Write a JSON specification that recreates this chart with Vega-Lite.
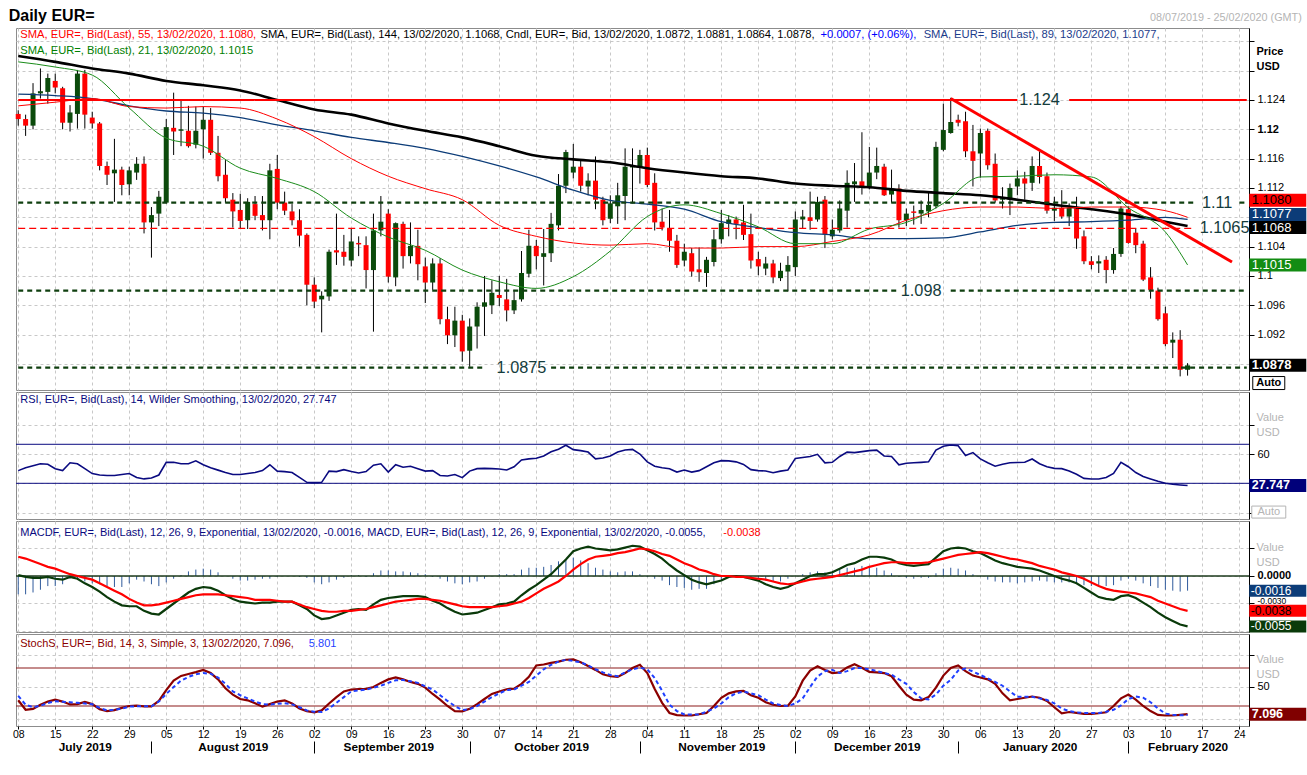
{
"$schema": "https://vega.github.io/schema/vega-lite/v6.json",
"padding": {"left": 8, "top": 7, "right": 0, "bottom": 5},
"background": "#ffffff",
"params": [
{"name": "days", "value": ["2019-07-08","2019-07-09","2019-07-10","2019-07-11","2019-07-12","2019-07-15","2019-07-16","2019-07-17","2019-07-18","2019-07-19","2019-07-22","2019-07-23","2019-07-24","2019-07-25","2019-07-26","2019-07-29","2019-07-30","2019-07-31","2019-08-01","2019-08-02","2019-08-05","2019-08-06","2019-08-07","2019-08-08","2019-08-09","2019-08-12","2019-08-13","2019-08-14","2019-08-15","2019-08-16","2019-08-19","2019-08-20","2019-08-21","2019-08-22","2019-08-23","2019-08-26","2019-08-27","2019-08-28","2019-08-29","2019-08-30","2019-09-02","2019-09-03","2019-09-04","2019-09-05","2019-09-06","2019-09-09","2019-09-10","2019-09-11","2019-09-12","2019-09-13","2019-09-16","2019-09-17","2019-09-18","2019-09-19","2019-09-20","2019-09-23","2019-09-24","2019-09-25","2019-09-26","2019-09-27","2019-09-30","2019-10-01","2019-10-02","2019-10-03","2019-10-04","2019-10-07","2019-10-08","2019-10-09","2019-10-10","2019-10-11","2019-10-14","2019-10-15","2019-10-16","2019-10-17","2019-10-18","2019-10-21","2019-10-22","2019-10-23","2019-10-24","2019-10-25","2019-10-28","2019-10-29","2019-10-30","2019-10-31","2019-11-01","2019-11-04","2019-11-05","2019-11-06","2019-11-07","2019-11-08","2019-11-11","2019-11-12","2019-11-13","2019-11-14","2019-11-15","2019-11-18","2019-11-19","2019-11-20","2019-11-21","2019-11-22","2019-11-25","2019-11-26","2019-11-27","2019-11-28","2019-11-29","2019-12-02","2019-12-03","2019-12-04","2019-12-05","2019-12-06","2019-12-09","2019-12-10","2019-12-11","2019-12-12","2019-12-13","2019-12-16","2019-12-17","2019-12-18","2019-12-19","2019-12-20","2019-12-23","2019-12-24","2019-12-25","2019-12-26","2019-12-27","2019-12-30","2019-12-31","2020-01-01","2020-01-02","2020-01-03","2020-01-06","2020-01-07","2020-01-08","2020-01-09","2020-01-10","2020-01-13","2020-01-14","2020-01-15","2020-01-16","2020-01-17","2020-01-20","2020-01-21","2020-01-22","2020-01-23","2020-01-24","2020-01-27","2020-01-28","2020-01-29","2020-01-30","2020-01-31","2020-02-03","2020-02-04","2020-02-05","2020-02-06","2020-02-07","2020-02-10","2020-02-11","2020-02-12","2020-02-13","2020-02-14","2020-02-17","2020-02-18","2020-02-19","2020-02-20","2020-02-21","2020-02-24","2020-02-25"]},
{"name": "mon", "value": ["2019-07-08","2019-07-15","2019-07-22","2019-07-29","2019-08-05","2019-08-12","2019-08-19","2019-08-26","2019-09-02","2019-09-09","2019-09-16","2019-09-23","2019-09-30","2019-10-07","2019-10-14","2019-10-21","2019-10-28","2019-11-04","2019-11-11","2019-11-18","2019-11-25","2019-12-02","2019-12-09","2019-12-16","2019-12-23","2019-12-30","2020-01-06","2020-01-13","2020-01-20","2020-01-27","2020-02-03","2020-02-10","2020-02-17","2020-02-24"]}
],
"config": {
"view": {"stroke": "#8c8c8c", "strokeWidth": 1},
"axis": {"labelFont": "Liberation Sans", "labelFontSize": 11, "labelColor": "#000000", "gridColor": "#c8c8c8", "gridDash": [3, 3], "gridWidth": 1, "tickColor": "#000000", "domainColor": "#000000", "titleFont": "Liberation Sans", "labelPadding": 3},
"text": {"font": "Liberation Sans"}
},
"datasets": {
"p": [
{"d":"2019-07-08","o":1.1221,"h":1.1226,"l":1.1205,"c":1.1214,"r":43,"m":0.0001,"s":0.0021,"hi":-0.0020,"k":29,"kd":36},
{"d":"2019-07-09","o":1.1214,"h":1.1220,"l":1.1191,"c":1.1205,"r":46,"m":-0.0001,"s":0.0019,"hi":-0.0020,"k":14,"kd":22},
{"d":"2019-07-10","o":1.1205,"h":1.1263,"l":1.1200,"c":1.1249,"r":48,"m":-0.0002,"s":0.0016,"hi":-0.0018,"k":15.5,"kd":18},
{"d":"2019-07-11","o":1.1249,"h":1.1283,"l":1.1242,"c":1.1252,"r":50,"m":-0.0002,"s":0.0013,"hi":-0.0015,"k":22,"kd":20.5},
{"d":"2019-07-12","o":1.1251,"h":1.1276,"l":1.1235,"c":1.1270,"r":49.5,"m":-0.0001,"s":0.0010,"hi":-0.0011,"k":27,"kd":24.5},
{"d":"2019-07-15","o":1.1266,"h":1.1276,"l":1.1249,"c":1.1257,"r":45,"m":-0.0003,"s":0.0008,"hi":-0.0011,"k":30,"kd":27.5},
{"d":"2019-07-16","o":1.1256,"h":1.1258,"l":1.1200,"c":1.1209,"r":43,"m":-0.0004,"s":0.0005,"hi":-0.0009,"k":27,"kd":26.8},
{"d":"2019-07-17","o":1.1209,"h":1.1233,"l":1.1197,"c":1.1223,"r":51,"m":-0.0001,"s":0.0002,"hi":-0.0003,"k":22.5,"kd":26},
{"d":"2019-07-18","o":1.1221,"h":1.1281,"l":1.1201,"c":1.1276,"r":50,"m":-0.0003,"s":0,"hi":-0.0003,"k":23,"kd":25},
{"d":"2019-07-19","o":1.1276,"h":1.1281,"l":1.1201,"c":1.1220,"r":45,"m":-0.0008,"s":-0.0002,"hi":-0.0006,"k":26.5,"kd":24},
{"d":"2019-07-22","o":1.1216,"h":1.1224,"l":1.1201,"c":1.1208,"r":40,"m":-0.0012,"s":-0.0004,"hi":-0.0008,"k":23,"kd":22.7},
{"d":"2019-07-23","o":1.1208,"h":1.1210,"l":1.1144,"c":1.1150,"r":38.5,"m":-0.0017,"s":-0.0008,"hi":-0.0009,"k":15,"kd":17},
{"d":"2019-07-24","o":1.1150,"h":1.1156,"l":1.1124,"c":1.1138,"r":38,"m":-0.0023,"s":-0.0012,"hi":-0.0011,"k":12,"kd":13},
{"d":"2019-07-25","o":1.1140,"h":1.1187,"l":1.1101,"c":1.1145,"r":38,"m":-0.0028,"s":-0.0016,"hi":-0.0012,"k":13.5,"kd":14},
{"d":"2019-07-26","o":1.1145,"h":1.1149,"l":1.1110,"c":1.1124,"r":39,"m":-0.0032,"s":-0.0020,"hi":-0.0012,"k":17,"kd":16},
{"d":"2019-07-29","o":1.1125,"h":1.1149,"l":1.1110,"c":1.1144,"r":40,"m":-0.0033,"s":-0.0025,"hi":-0.0008,"k":20,"kd":19},
{"d":"2019-07-30","o":1.1141,"h":1.1162,"l":1.1131,"c":1.1153,"r":36,"m":-0.0033,"s":-0.0029,"hi":-0.0004,"k":20.5,"kd":19.5},
{"d":"2019-07-31","o":1.1153,"h":1.1163,"l":1.1058,"c":1.1073,"r":34.5,"m":-0.0038,"s":-0.0032,"hi":-0.0006,"k":19.5,"kd":19.5},
{"d":"2019-08-01","o":1.1073,"h":1.1094,"l":1.1025,"c":1.1083,"r":35.5,"m":-0.0041,"s":-0.0032,"hi":-0.0009,"k":19.5,"kd":19.5},
{"d":"2019-08-02","o":1.1085,"h":1.1116,"l":1.1068,"c":1.1108,"r":38.5,"m":-0.0042,"s":-0.0031,"hi":-0.0011,"k":28,"kd":27},
{"d":"2019-08-05","o":1.1100,"h":1.1214,"l":1.1099,"c":1.1203,"r":51.5,"m":-0.0036,"s":-0.0029,"hi":-0.0007,"k":45,"kd":39},
{"d":"2019-08-06","o":1.1202,"h":1.1250,"l":1.1165,"c":1.1197,"r":51.5,"m":-0.0030,"s":-0.0027,"hi":-0.0003,"k":60,"kd":50},
{"d":"2019-08-07","o":1.1198,"h":1.1240,"l":1.1177,"c":1.1200,"r":50,"m":-0.0024,"s":-0.0025,"hi":0.0001,"k":67.5,"kd":60},
{"d":"2019-08-08","o":1.1198,"h":1.1232,"l":1.1175,"c":1.1177,"r":50,"m":-0.0018,"s":-0.0023,"hi":0.0005,"k":70.5,"kd":66},
{"d":"2019-08-09","o":1.1179,"h":1.1231,"l":1.1174,"c":1.1198,"r":53,"m":-0.0014,"s":-0.0021,"hi":0.0007,"k":73.5,"kd":70},
{"d":"2019-08-12","o":1.1200,"h":1.1231,"l":1.1160,"c":1.1213,"r":49,"m":-0.0012,"s":-0.0020,"hi":0.0008,"k":77,"kd":72},
{"d":"2019-08-13","o":1.1213,"h":1.1229,"l":1.1165,"c":1.1168,"r":46,"m":-0.0013,"s":-0.0020,"hi":0.0007,"k":72,"kd":71},
{"d":"2019-08-14","o":1.1168,"h":1.1191,"l":1.1129,"c":1.1136,"r":43.5,"m":-0.0016,"s":-0.0020,"hi":0.0004,"k":62,"kd":65},
{"d":"2019-08-15","o":1.1138,"h":1.1158,"l":1.1100,"c":1.1106,"r":41,"m":-0.0021,"s":-0.0021,"hi":0,"k":48,"kd":55},
{"d":"2019-08-16","o":1.1104,"h":1.1113,"l":1.1066,"c":1.1088,"r":39,"m":-0.0025,"s":-0.0022,"hi":-0.0003,"k":38,"kd":43},
{"d":"2019-08-19","o":1.1090,"h":1.1112,"l":1.1064,"c":1.1075,"r":39,"m":-0.0028,"s":-0.0023,"hi":-0.0005,"k":31,"kd":37},
{"d":"2019-08-20","o":1.1076,"h":1.1106,"l":1.1064,"c":1.1101,"r":40,"m":-0.0029,"s":-0.0024,"hi":-0.0005,"k":29,"kd":32},
{"d":"2019-08-21","o":1.1098,"h":1.1109,"l":1.1076,"c":1.1082,"r":41,"m":-0.0030,"s":-0.0026,"hi":-0.0004,"k":24.5,"kd":27},
{"d":"2019-08-22","o":1.1083,"h":1.1109,"l":1.1062,"c":1.1076,"r":43,"m":-0.0029,"s":-0.0026,"hi":-0.0003,"k":19,"kd":23},
{"d":"2019-08-23","o":1.1076,"h":1.1153,"l":1.1050,"c":1.1144,"r":49,"m":-0.0029,"s":-0.0026,"hi":-0.0003,"k":23,"kd":22},
{"d":"2019-08-26","o":1.1146,"h":1.1165,"l":1.1091,"c":1.1100,"r":42.5,"m":-0.0028,"s":-0.0027,"hi":-0.0001,"k":27,"kd":23.5},
{"d":"2019-08-27","o":1.1100,"h":1.1115,"l":1.1083,"c":1.1089,"r":42,"m":-0.0028,"s":-0.0028,"hi":0,"k":29,"kd":24.5},
{"d":"2019-08-28","o":1.1088,"h":1.1098,"l":1.1069,"c":1.1076,"r":41,"m":-0.0028,"s":-0.0028,"hi":0,"k":23.8,"kd":22.5},
{"d":"2019-08-29","o":1.1076,"h":1.1091,"l":1.1040,"c":1.1055,"r":36,"m":-0.0032,"s":-0.0031,"hi":-0.0001,"k":16,"kd":18},
{"d":"2019-08-30","o":1.1056,"h":1.1058,"l":1.0960,"c":1.0988,"r":31,"m":-0.0036,"s":-0.0034,"hi":-0.0002,"k":12,"kd":13},
{"d":"2019-09-02","o":1.0988,"h":1.0998,"l":1.0956,"c":1.0965,"r":30.7,"m":-0.0043,"s":-0.0036,"hi":-0.0007,"k":10,"kd":11},
{"d":"2019-09-03","o":1.0968,"h":1.0979,"l":1.0923,"c":1.0973,"r":31,"m":-0.0047,"s":-0.0038,"hi":-0.0009,"k":13,"kd":10.5},
{"d":"2019-09-04","o":1.0972,"h":1.1036,"l":1.0966,"c":1.1033,"r":42.5,"m":-0.0046,"s":-0.0039,"hi":-0.0007,"k":24,"kd":16},
{"d":"2019-09-05","o":1.1035,"h":1.1085,"l":1.1015,"c":1.1032,"r":42,"m":-0.0043,"s":-0.0039,"hi":-0.0004,"k":34,"kd":25},
{"d":"2019-09-06","o":1.1033,"h":1.1056,"l":1.1014,"c":1.1026,"r":44,"m":-0.0040,"s":-0.0038,"hi":-0.0002,"k":43,"kd":34},
{"d":"2019-09-09","o":1.1021,"h":1.1065,"l":1.1013,"c":1.1047,"r":42,"m":-0.0037,"s":-0.0038,"hi":0.0001,"k":46,"kd":43},
{"d":"2019-09-10","o":1.1045,"h":1.1054,"l":1.1027,"c":1.1043,"r":40.5,"m":-0.0036,"s":-0.0037,"hi":0.0001,"k":46.8,"kd":44.5},
{"d":"2019-09-11","o":1.1042,"h":1.1054,"l":1.0983,"c":1.1008,"r":42,"m":-0.0037,"s":-0.0036,"hi":-0.0001,"k":47,"kd":46},
{"d":"2019-09-12","o":1.1008,"h":1.1085,"l":1.0924,"c":1.1062,"r":48.5,"m":-0.0031,"s":-0.0034,"hi":0.0003,"k":50,"kd":49},
{"d":"2019-09-13","o":1.1062,"h":1.1109,"l":1.1054,"c":1.1074,"r":50,"m":-0.0026,"s":-0.0032,"hi":0.0006,"k":56.5,"kd":52},
{"d":"2019-09-16","o":1.1085,"h":1.1091,"l":1.0991,"c":1.0999,"r":41.5,"m":-0.0024,"s":-0.0030,"hi":0.0006,"k":62,"kd":56.5},
{"d":"2019-09-17","o":1.0998,"h":1.1073,"l":1.0986,"c":1.1072,"r":49,"m":-0.0023,"s":-0.0028,"hi":0.0005,"k":65,"kd":60.5},
{"d":"2019-09-18","o":1.1071,"h":1.1074,"l":1.1010,"c":1.1027,"r":46.5,"m":-0.0022,"s":-0.0027,"hi":0.0005,"k":62,"kd":61},
{"d":"2019-09-19","o":1.1027,"h":1.1073,"l":1.1017,"c":1.1041,"r":47.5,"m":-0.0022,"s":-0.0026,"hi":0.0004,"k":58,"kd":59},
{"d":"2019-09-20","o":1.1041,"h":1.1063,"l":1.0994,"c":1.1016,"r":45,"m":-0.0022,"s":-0.0025,"hi":0.0003,"k":55,"kd":56.5},
{"d":"2019-09-23","o":1.1013,"h":1.1025,"l":1.0963,"c":1.0991,"r":42.5,"m":-0.0023,"s":-0.0025,"hi":0.0002,"k":49,"kd":51},
{"d":"2019-09-24","o":1.0991,"h":1.1024,"l":1.0981,"c":1.1017,"r":43,"m":-0.0027,"s":-0.0026,"hi":-0.0001,"k":39,"kd":46},
{"d":"2019-09-25","o":1.1017,"h":1.1024,"l":1.0934,"c":1.0941,"r":38,"m":-0.0030,"s":-0.0027,"hi":-0.0003,"k":30,"kd":37},
{"d":"2019-09-26","o":1.0941,"h":1.0958,"l":1.0907,"c":1.0919,"r":37.5,"m":-0.0035,"s":-0.0029,"hi":-0.0006,"k":20,"kd":28},
{"d":"2019-09-27","o":1.0919,"h":1.0958,"l":1.0903,"c":1.0939,"r":39,"m":-0.0039,"s":-0.0031,"hi":-0.0008,"k":12,"kd":20},
{"d":"2019-09-30","o":1.0939,"h":1.0947,"l":1.0883,"c":1.0897,"r":35.8,"m":-0.0042,"s":-0.0033,"hi":-0.0009,"k":11.5,"kd":13.5},
{"d":"2019-10-01","o":1.0898,"h":1.0942,"l":1.0876,"c":1.0931,"r":42.5,"m":-0.0041,"s":-0.0034,"hi":-0.0007,"k":15.5,"kd":15},
{"d":"2019-10-02","o":1.0931,"h":1.0964,"l":1.0901,"c":1.0958,"r":45,"m":-0.0040,"s":-0.0034,"hi":-0.0006,"k":23,"kd":20},
{"d":"2019-10-03","o":1.0958,"h":1.1000,"l":1.0918,"c":1.0964,"r":45.3,"m":-0.0037,"s":-0.0034,"hi":-0.0003,"k":31,"kd":27},
{"d":"2019-10-04","o":1.0960,"h":1.0994,"l":1.0948,"c":1.0977,"r":45,"m":-0.0034,"s":-0.0034,"hi":0,"k":39,"kd":34},
{"d":"2019-10-07","o":1.0974,"h":1.1000,"l":1.0959,"c":1.0970,"r":44.6,"m":-0.0031,"s":-0.0033,"hi":0.0002,"k":43,"kd":40},
{"d":"2019-10-08","o":1.0968,"h":1.0996,"l":1.0938,"c":1.0953,"r":43.6,"m":-0.0030,"s":-0.0032,"hi":0.0002,"k":46.5,"kd":45},
{"d":"2019-10-09","o":1.0953,"h":1.0981,"l":1.0948,"c":1.0967,"r":47,"m":-0.0028,"s":-0.0030,"hi":0.0002,"k":47.5,"kd":46},
{"d":"2019-10-10","o":1.0968,"h":1.1034,"l":1.0965,"c":1.1004,"r":54,"m":-0.0021,"s":-0.0028,"hi":0.0007,"k":55,"kd":52},
{"d":"2019-10-11","o":1.1003,"h":1.1063,"l":1.0998,"c":1.1041,"r":55,"m":-0.0015,"s":-0.0024,"hi":0.0009,"k":66,"kd":58},
{"d":"2019-10-14","o":1.1041,"h":1.1049,"l":1.1009,"c":1.1027,"r":55.6,"m":-0.0010,"s":-0.0019,"hi":0.0009,"k":84,"kd":68},
{"d":"2019-10-15","o":1.1026,"h":1.1064,"l":1.0987,"c":1.1031,"r":58,"m":-0.0004,"s":-0.0014,"hi":0.0010,"k":85.5,"kd":78},
{"d":"2019-10-16","o":1.1031,"h":1.1086,"l":1.1019,"c":1.1071,"r":62.4,"m":0.0002,"s":-0.0010,"hi":0.0012,"k":88,"kd":85},
{"d":"2019-10-17","o":1.1069,"h":1.1139,"l":1.1062,"c":1.1123,"r":65,"m":0.0010,"s":-0.0006,"hi":0.0016,"k":90,"kd":90},
{"d":"2019-10-18","o":1.1123,"h":1.1172,"l":1.1113,"c":1.1169,"r":69,"m":0.0018,"s":0,"hi":0.0018,"k":93,"kd":93},
{"d":"2019-10-21","o":1.1141,"h":1.1180,"l":1.1133,"c":1.1149,"r":64.5,"m":0.0027,"s":0.0007,"hi":0.0020,"k":93.5,"kd":91},
{"d":"2019-10-22","o":1.1149,"h":1.1158,"l":1.1115,"c":1.1123,"r":63.5,"m":0.0030,"s":0.0013,"hi":0.0017,"k":89,"kd":89},
{"d":"2019-10-23","o":1.1122,"h":1.1140,"l":1.1110,"c":1.1130,"r":62,"m":0.0032,"s":0.0018,"hi":0.0014,"k":83,"kd":84},
{"d":"2019-10-24","o":1.1130,"h":1.1163,"l":1.1091,"c":1.1104,"r":55,"m":0.0030,"s":0.0021,"hi":0.0009,"k":77,"kd":78},
{"d":"2019-10-25","o":1.1104,"h":1.1108,"l":1.1069,"c":1.1076,"r":56,"m":0.0029,"s":0.0022,"hi":0.0007,"k":70,"kd":73},
{"d":"2019-10-28","o":1.1078,"h":1.1110,"l":1.1072,"c":1.1099,"r":58,"m":0.0028,"s":0.0023,"hi":0.0005,"k":67,"kd":69},
{"d":"2019-10-29","o":1.1095,"h":1.1127,"l":1.1071,"c":1.1110,"r":62,"m":0.0029,"s":0.0025,"hi":0.0004,"k":66,"kd":67},
{"d":"2019-10-30","o":1.1109,"h":1.1174,"l":1.1076,"c":1.1149,"r":64.1,"m":0.0031,"s":0.0026,"hi":0.0005,"k":72,"kd":73},
{"d":"2019-10-31","o":1.1148,"h":1.1174,"l":1.1099,"c":1.1151,"r":64.8,"m":0.0033,"s":0.0028,"hi":0.0005,"k":80,"kd":78},
{"d":"2019-11-01","o":1.1149,"h":1.1172,"l":1.1126,"c":1.1165,"r":60,"m":0.0032,"s":0.0030,"hi":0.0002,"k":85,"kd":80.5},
{"d":"2019-11-04","o":1.1165,"h":1.1175,"l":1.1121,"c":1.1124,"r":52,"m":0.0028,"s":0.0029,"hi":-0.0001,"k":72,"kd":78},
{"d":"2019-11-05","o":1.1127,"h":1.1140,"l":1.1062,"c":1.1073,"r":47.5,"m":0.0024,"s":0.0027,"hi":-0.0003,"k":47,"kd":64},
{"d":"2019-11-06","o":1.1074,"h":1.1092,"l":1.1062,"c":1.1066,"r":46,"m":0.0019,"s":0.0024,"hi":-0.0005,"k":25,"kd":44},
{"d":"2019-11-07","o":1.1065,"h":1.1090,"l":1.1033,"c":1.1048,"r":45,"m":0.0012,"s":0.0022,"hi":-0.0010,"k":9,"kd":22},
{"d":"2019-11-08","o":1.1048,"h":1.1056,"l":1.1011,"c":1.1015,"r":41.5,"m":0.0006,"s":0.0018,"hi":-0.0012,"k":5.5,"kd":12},
{"d":"2019-11-11","o":1.1021,"h":1.1044,"l":1.1013,"c":1.1033,"r":43.6,"m":0.0001,"s":0.0014,"hi":-0.0013,"k":5,"kd":6.6},
{"d":"2019-11-12","o":1.1031,"h":1.1038,"l":1.0999,"c":1.1006,"r":41.5,"m":-0.0004,"s":0.0011,"hi":-0.0015,"k":5,"kd":6.6},
{"d":"2019-11-13","o":1.1009,"h":1.1039,"l":1.0992,"c":1.1005,"r":43,"m":-0.0007,"s":0.0007,"hi":-0.0014,"k":7,"kd":6.6},
{"d":"2019-11-14","o":1.1004,"h":1.1026,"l":1.0985,"c":1.1022,"r":47,"m":-0.0009,"s":0.0005,"hi":-0.0014,"k":9,"kd":11},
{"d":"2019-11-15","o":1.1019,"h":1.1063,"l":1.1013,"c":1.1050,"r":51,"m":-0.0007,"s":0.0002,"hi":-0.0009,"k":20,"kd":16},
{"d":"2019-11-18","o":1.1050,"h":1.1090,"l":1.1044,"c":1.1072,"r":53.2,"m":-0.0005,"s":0,"hi":-0.0005,"k":33,"kd":24},
{"d":"2019-11-19","o":1.1071,"h":1.1083,"l":1.1054,"c":1.1077,"r":53,"m":-0.0001,"s":0,"hi":-0.0001,"k":40,"kd":34},
{"d":"2019-11-20","o":1.1077,"h":1.1081,"l":1.1050,"c":1.1071,"r":52,"m":0,"s":-0.0001,"hi":0.0001,"k":43,"kd":40},
{"d":"2019-11-21","o":1.1073,"h":1.1097,"l":1.1049,"c":1.1056,"r":49.4,"m":-0.0001,"s":-0.0001,"hi":0,"k":44,"kd":43},
{"d":"2019-11-22","o":1.1057,"h":1.1085,"l":1.1010,"c":1.1021,"r":44,"m":-0.0003,"s":-0.0002,"hi":-0.0001,"k":37,"kd":40},
{"d":"2019-11-25","o":1.1023,"h":1.1033,"l":1.1001,"c":1.1013,"r":43,"m":-0.0005,"s":-0.0003,"hi":-0.0002,"k":33,"kd":37},
{"d":"2019-11-26","o":1.1010,"h":1.1026,"l":1.1001,"c":1.1017,"r":42.6,"m":-0.0009,"s":-0.0004,"hi":-0.0005,"k":26,"kd":30},
{"d":"2019-11-27","o":1.1017,"h":1.1022,"l":1.0990,"c":1.0998,"r":40.8,"m":-0.0012,"s":-0.0006,"hi":-0.0006,"k":22,"kd":24},
{"d":"2019-11-28","o":1.0997,"h":1.1018,"l":1.0993,"c":1.1007,"r":42.5,"m":-0.0014,"s":-0.0008,"hi":-0.0006,"k":20,"kd":21.5},
{"d":"2019-11-29","o":1.1006,"h":1.1027,"l":1.0979,"c":1.1015,"r":43.6,"m":-0.0012,"s":-0.0009,"hi":-0.0003,"k":20.5,"kd":20},
{"d":"2019-12-02","o":1.1012,"h":1.1088,"l":1.1000,"c":1.1077,"r":55.5,"m":-0.0008,"s":-0.0008,"hi":0,"k":35,"kd":24},
{"d":"2019-12-03","o":1.1077,"h":1.1090,"l":1.1064,"c":1.1081,"r":56.5,"m":-0.0004,"s":-0.0006,"hi":0.0002,"k":60,"kd":32},
{"d":"2019-12-04","o":1.1080,"h":1.1115,"l":1.1063,"c":1.1075,"r":57.5,"m":0,"s":-0.0004,"hi":0.0004,"k":76,"kd":50},
{"d":"2019-12-05","o":1.1077,"h":1.1108,"l":1.1074,"c":1.1101,"r":59.7,"m":0.0002,"s":-0.0003,"hi":0.0005,"k":82.7,"kd":66.6},
{"d":"2019-12-06","o":1.1104,"h":1.1109,"l":1.1038,"c":1.1057,"r":51,"m":0.0002,"s":-0.0002,"hi":0.0004,"k":77,"kd":75},
{"d":"2019-12-09","o":1.1054,"h":1.1077,"l":1.1050,"c":1.1063,"r":51.5,"m":0.0004,"s":-0.0001,"hi":0.0005,"k":72,"kd":77},
{"d":"2019-12-10","o":1.1062,"h":1.1103,"l":1.1059,"c":1.1092,"r":57.5,"m":0.0008,"s":0.0001,"hi":0.0007,"k":73,"kd":72},
{"d":"2019-12-11","o":1.1089,"h":1.1144,"l":1.1066,"c":1.1127,"r":62,"m":0.0012,"s":0.0003,"hi":0.0009,"k":81,"kd":75},
{"d":"2019-12-12","o":1.1125,"h":1.1154,"l":1.1101,"c":1.1129,"r":61.5,"m":0.0014,"s":0.0005,"hi":0.0009,"k":86,"kd":80},
{"d":"2019-12-13","o":1.1129,"h":1.1196,"l":1.1111,"c":1.1120,"r":62.5,"m":0.0018,"s":0.0007,"hi":0.0011,"k":80.5,"kd":80},
{"d":"2019-12-16","o":1.1120,"h":1.1176,"l":1.1118,"c":1.1141,"r":63.5,"m":0.0021,"s":0.0010,"hi":0.0011,"k":74,"kd":78},
{"d":"2019-12-17","o":1.1141,"h":1.1175,"l":1.1132,"c":1.1150,"r":64,"m":0.0021,"s":0.0012,"hi":0.0009,"k":73,"kd":75},
{"d":"2019-12-18","o":1.1149,"h":1.1153,"l":1.1109,"c":1.1110,"r":58,"m":0.0020,"s":0.0014,"hi":0.0006,"k":72,"kd":72},
{"d":"2019-12-19","o":1.1111,"h":1.1145,"l":1.1100,"c":1.1119,"r":57.5,"m":0.0018,"s":0.0015,"hi":0.0003,"k":67,"kd":69.5},
{"d":"2019-12-20","o":1.1119,"h":1.1125,"l":1.1066,"c":1.1076,"r":49,"m":0.0014,"s":0.0015,"hi":-0.0001,"k":52,"kd":62},
{"d":"2019-12-23","o":1.1076,"h":1.1092,"l":1.1068,"c":1.1085,"r":50.5,"m":0.0012,"s":0.0014,"hi":-0.0002,"k":38,"kd":55},
{"d":"2019-12-24","o":1.1088,"h":1.1096,"l":1.1070,"c":1.1086,"r":51,"m":0.0011,"s":0.0014,"hi":-0.0003,"k":30,"kd":42},
{"d":"2019-12-25","o":1.1085,"h":1.1103,"l":1.1071,"c":1.1090,"r":51.5,"m":0.0012,"s":0.0014,"hi":-0.0002,"k":29,"kd":32},
{"d":"2019-12-26","o":1.1088,"h":1.1115,"l":1.1080,"c":1.1097,"r":52,"m":0.0013,"s":0.0015,"hi":-0.0002,"k":34,"kd":30.5},
{"d":"2019-12-27","o":1.1095,"h":1.1183,"l":1.1092,"c":1.1176,"r":64,"m":0.0020,"s":0.0017,"hi":0.0003,"k":49,"kd":38},
{"d":"2019-12-30","o":1.1172,"h":1.1235,"l":1.1170,"c":1.1199,"r":68,"m":0.0027,"s":0.0019,"hi":0.0008,"k":68,"kd":52},
{"d":"2019-12-31","o":1.1195,"h":1.1243,"l":1.1194,"c":1.1210,"r":69.2,"m":0.0030,"s":0.0021,"hi":0.0009,"k":80,"kd":61.3},
{"d":"2020-01-01","o":1.1213,"h":1.1220,"l":1.1204,"c":1.1209,"r":68.5,"m":0.0031,"s":0.0023,"hi":0.0008,"k":84,"kd":76},
{"d":"2020-01-02","o":1.1211,"h":1.1224,"l":1.1162,"c":1.1170,"r":58.5,"m":0.0030,"s":0.0024,"hi":0.0006,"k":75,"kd":79},
{"d":"2020-01-03","o":1.1170,"h":1.1206,"l":1.1122,"c":1.1157,"r":61.5,"m":0.0027,"s":0.0025,"hi":0.0002,"k":68,"kd":74.5},
{"d":"2020-01-06","o":1.1167,"h":1.1201,"l":1.1134,"c":1.1195,"r":55,"m":0.0025,"s":0.0026,"hi":-0.0001,"k":65,"kd":69},
{"d":"2020-01-07","o":1.1198,"h":1.1201,"l":1.1145,"c":1.1151,"r":51,"m":0.0021,"s":0.0025,"hi":-0.0004,"k":62,"kd":63.5},
{"d":"2020-01-08","o":1.1153,"h":1.1167,"l":1.1100,"c":1.1103,"r":47.5,"m":0.0017,"s":0.0023,"hi":-0.0006,"k":55,"kd":58},
{"d":"2020-01-09","o":1.1104,"h":1.1121,"l":1.1092,"c":1.1106,"r":49.5,"m":0.0014,"s":0.0021,"hi":-0.0007,"k":40,"kd":52},
{"d":"2020-01-10","o":1.1104,"h":1.1126,"l":1.1083,"c":1.1120,"r":51,"m":0.0012,"s":0.0019,"hi":-0.0007,"k":29,"kd":43},
{"d":"2020-01-13","o":1.1122,"h":1.1144,"l":1.1110,"c":1.1133,"r":51.3,"m":0.0010,"s":0.0018,"hi":-0.0008,"k":31,"kd":34.5},
{"d":"2020-01-14","o":1.1133,"h":1.1142,"l":1.1104,"c":1.1126,"r":51.5,"m":0.0009,"s":0.0016,"hi":-0.0007,"k":33,"kd":34.5},
{"d":"2020-01-15","o":1.1127,"h":1.1163,"l":1.1116,"c":1.1150,"r":54.9,"m":0.0008,"s":0.0014,"hi":-0.0006,"k":35,"kd":34.5},
{"d":"2020-01-16","o":1.1150,"h":1.1170,"l":1.1126,"c":1.1135,"r":50,"m":0.0006,"s":0.0011,"hi":-0.0005,"k":33,"kd":32},
{"d":"2020-01-17","o":1.1136,"h":1.1141,"l":1.1085,"c":1.1089,"r":47,"m":0.0003,"s":0.0009,"hi":-0.0006,"k":28,"kd":29.5},
{"d":"2020-01-20","o":1.1089,"h":1.1108,"l":1.1075,"c":1.1093,"r":45.3,"m":0,"s":0.0007,"hi":-0.0007,"k":18,"kd":24},
{"d":"2020-01-21","o":1.1093,"h":1.1117,"l":1.1078,"c":1.1081,"r":45,"m":-0.0003,"s":0.0004,"hi":-0.0007,"k":8.5,"kd":16},
{"d":"2020-01-22","o":1.1081,"h":1.1099,"l":1.1068,"c":1.1093,"r":42.5,"m":-0.0005,"s":0.0002,"hi":-0.0007,"k":10.5,"kd":12},
{"d":"2020-01-23","o":1.1092,"h":1.1108,"l":1.1037,"c":1.1051,"r":39.2,"m":-0.0008,"s":0,"hi":-0.0008,"k":9,"kd":10},
{"d":"2020-01-24","o":1.1054,"h":1.1062,"l":1.1016,"c":1.1020,"r":35,"m":-0.0013,"s":-0.0003,"hi":-0.0010,"k":7.7,"kd":8.8},
{"d":"2020-01-27","o":1.1020,"h":1.1027,"l":1.1009,"c":1.1015,"r":34.4,"m":-0.0018,"s":-0.0007,"hi":-0.0011,"k":7.7,"kd":8.8},
{"d":"2020-01-28","o":1.1017,"h":1.1028,"l":1.1004,"c":1.1020,"r":34.4,"m":-0.0023,"s":-0.0011,"hi":-0.0012,"k":8.5,"kd":8.8},
{"d":"2020-01-29","o":1.1022,"h":1.1027,"l":1.0990,"c":1.1008,"r":36,"m":-0.0025,"s":-0.0014,"hi":-0.0011,"k":10,"kd":11},
{"d":"2020-01-30","o":1.1008,"h":1.1038,"l":1.1003,"c":1.1030,"r":40.2,"m":-0.0026,"s":-0.0016,"hi":-0.0010,"k":20,"kd":14},
{"d":"2020-01-31","o":1.1030,"h":1.1095,"l":1.1026,"c":1.1092,"r":51.5,"m":-0.0022,"s":-0.0017,"hi":-0.0005,"k":32,"kd":21},
{"d":"2020-02-03","o":1.1091,"h":1.1095,"l":1.1044,"c":1.1045,"r":47,"m":-0.0021,"s":-0.0018,"hi":-0.0003,"k":38,"kd":31},
{"d":"2020-02-04","o":1.1059,"h":1.1065,"l":1.1031,"c":1.1042,"r":41,"m":-0.0024,"s":-0.0019,"hi":-0.0005,"k":30,"kd":35},
{"d":"2020-02-05","o":1.1044,"h":1.1048,"l":1.0993,"c":1.0995,"r":37,"m":-0.0029,"s":-0.0021,"hi":-0.0008,"k":20,"kd":33},
{"d":"2020-02-06","o":1.0998,"h":1.1012,"l":1.0969,"c":1.0981,"r":34.5,"m":-0.0034,"s":-0.0023,"hi":-0.0011,"k":12,"kd":26},
{"d":"2020-02-07","o":1.0980,"h":1.0984,"l":1.0939,"c":1.0941,"r":32,"m":-0.0040,"s":-0.0027,"hi":-0.0013,"k":6,"kd":16},
{"d":"2020-02-10","o":1.0949,"h":1.0958,"l":1.0904,"c":1.0907,"r":30,"m":-0.0045,"s":-0.0030,"hi":-0.0015,"k":5,"kd":8},
{"d":"2020-02-11","o":1.0909,"h":1.0923,"l":1.0888,"c":1.0913,"r":29,"m":-0.0049,"s":-0.0033,"hi":-0.0016,"k":5,"kd":6},
{"d":"2020-02-12","o":1.0913,"h":1.0926,"l":1.0863,"c":1.0872,"r":28.3,"m":-0.0053,"s":-0.0036,"hi":-0.0017,"k":6,"kd":5.2},
{"d":"2020-02-13","o":1.0872,"h":1.0881,"l":1.0864,"c":1.0878,"r":27.7,"m":-0.0055,"s":-0.0038,"hi":-0.0016,"k":7.1,"kd":5.8}
],
"sma": [
{"d":"2019-07-08","a21":1.1292,"a55":1.1232,"a89":1.1248,"a144":1.1300},
{"d":"2019-07-15","a21":1.1285,"a55":1.1237,"a89":1.1246,"a144":1.1292},
{"d":"2019-07-22","a21":1.1274,"a55":1.1242,"a89":1.1242,"a144":1.1283},
{"d":"2019-07-29","a21":1.1229,"a55":1.1231,"a89":1.1232,"a144":1.1276},
{"d":"2019-08-05","a21":1.1188,"a55":1.1229,"a89":1.1225,"a144":1.1266},
{"d":"2019-08-12","a21":1.1177,"a55":1.1231,"a89":1.1222,"a144":1.1260},
{"d":"2019-08-19","a21":1.1147,"a55":1.1229,"a89":1.1216,"a144":1.1253},
{"d":"2019-08-26","a21":1.1133,"a55":1.1214,"a89":1.1206,"a144":1.1240},
{"d":"2019-09-02","a21":1.1115,"a55":1.1190,"a89":1.1198,"a144":1.1227},
{"d":"2019-09-09","a21":1.1079,"a55":1.1160,"a89":1.1189,"a144":1.1220},
{"d":"2019-09-16","a21":1.1053,"a55":1.1136,"a89":1.1182,"a144":1.1208},
{"d":"2019-09-23","a21":1.1035,"a55":1.1119,"a89":1.1174,"a144":1.1198},
{"d":"2019-09-30","a21":1.1008,"a55":1.1104,"a89":1.1163,"a144":1.1189},
{"d":"2019-10-07","a21":1.0992,"a55":1.1069,"a89":1.1150,"a144":1.1177},
{"d":"2019-10-14","a21":1.0983,"a55":1.1054,"a89":1.1135,"a144":1.1164},
{"d":"2019-10-21","a21":1.0999,"a55":1.1045,"a89":1.1117,"a144":1.1159},
{"d":"2019-10-28","a21":1.1034,"a55":1.1042,"a89":1.1103,"a144":1.1155},
{"d":"2019-11-04","a21":1.1081,"a55":1.1044,"a89":1.1098,"a144":1.1147},
{"d":"2019-11-11","a21":1.1097,"a55":1.1038,"a89":1.1091,"a144":1.1141},
{"d":"2019-11-18","a21":1.1085,"a55":1.1038,"a89":1.1074,"a144":1.1136},
{"d":"2019-11-25","a21":1.1067,"a55":1.1040,"a89":1.1066,"a144":1.1133},
{"d":"2019-12-02","a21":1.1044,"a55":1.1040,"a89":1.1059,"a144":1.1126},
{"d":"2019-12-09","a21":1.1044,"a55":1.1047,"a89":1.1056,"a144":1.1123},
{"d":"2019-12-16","a21":1.1064,"a55":1.1056,"a89":1.1051,"a144":1.1121},
{"d":"2019-12-23","a21":1.1073,"a55":1.1076,"a89":1.1051,"a144":1.1116},
{"d":"2019-12-30","a21":1.1099,"a55":1.1089,"a89":1.1052,"a144":1.1113},
{"d":"2020-01-06","a21":1.1135,"a55":1.1094,"a89":1.1060,"a144":1.1110},
{"d":"2020-01-13","a21":1.1136,"a55":1.1094,"a89":1.1069,"a144":1.1104},
{"d":"2020-01-20","a21":1.1138,"a55":1.1092,"a89":1.1073,"a144":1.1097},
{"d":"2020-01-27","a21":1.1135,"a55":1.1094,"a89":1.1074,"a144":1.1091},
{"d":"2020-02-03","a21":1.1093,"a55":1.1094,"a89":1.1076,"a144":1.1084},
{"d":"2020-02-10","a21":1.1060,"a55":1.1089,"a89":1.1080,"a144":1.1074},
{"d":"2020-02-13","a21":1.1015,"a55":1.1080,"a89":1.1077,"a144":1.1068}
],
"lv": [
{"d":"2019-07-08","d2":"2020-01-13","v":1.124,"k":"res"},
{"d":"2020-01-22","d2":"2020-02-25","v":1.124,"k":"res"},
{"d":"2019-07-08","d2":"2020-02-14","v":1.11,"k":"sup"},
{"d":"2020-02-24","d2":"2020-02-25","v":1.11,"k":"sup"},
{"d":"2019-07-08","d2":"2020-02-14","v":1.1065,"k":"piv"},
{"d":"2019-07-08","d2":"2019-12-20","v":1.098,"k":"sup"},
{"d":"2019-12-31","d2":"2020-02-25","v":1.098,"k":"sup"},
{"d":"2019-07-08","d2":"2019-10-03","v":1.0875,"k":"sup"},
{"d":"2019-10-16","d2":"2020-02-25","v":1.0875,"k":"sup"}
],
"lb": [
{"d":"2020-01-16","v":1.124,"t":"1.124"},
{"d":"2020-02-19","v":1.11,"t":"1.11"},
{"d":"2020-02-20","v":1.1065,"t":"1.1065"},
{"d":"2019-12-25","v":1.098,"t":"1.098"},
{"d":"2019-10-10","v":1.0875,"t":"1.0875"}
],
"tr": [
{"d":"2019-12-31","v":1.1242},
{"d":"2020-02-21","v":1.1019}
],
"lg": [
{"d":"2019-07-08","v":1.13287,"t":"SMA, EUR=, Bid(Last),  55, 13/02/2020, 1.1080,","g":"r"},
{"d":"2019-08-22","v":1.13287,"t":"SMA, EUR=, Bid(Last),  144, 13/02/2020, 1.1068, Cndl, EUR=, Bid, 13/02/2020, 1.0872, 1.0881, 1.0864, 1.0878,","g":"k"},
{"d":"2019-12-05","v":1.13287,"t":"+0.0007, (+0.06%),","g":"b"},
{"d":"2019-12-25","v":1.13287,"t":"SMA, EUR=, Bid(Last),  89, 13/02/2020, 1.1077,","g":"n"},
{"d":"2019-07-08","v":1.13068,"t":"SMA, EUR=, Bid(Last),  21, 13/02/2020, 1.1015","g":"g"}
]
},
"spacing": 0,
"vconcat": [
{
"width": 1233, "height": 362,
"resolve": {"axis": {"x": "independent", "y": "independent"}},
"layer": [
{"data": {"name": "p"}, "mark": {"type": "rule", "color": "#000000", "strokeWidth": 1},
 "encoding": {
  "x": {"field": "d", "type": "ordinal", "scale": {"type": "point", "padding": 0.3, "domain": {"expr": "days"}}, "axis": {"values": {"expr": "mon"}, "labels": false, "ticks": false, "domain": false, "grid": true, "title": null}},
  "y": {"field": "l", "type": "quantitative", "scale": {"domain": [1.08444, 1.13382], "nice": false, "zero": false},
   "axis": {"orient": "right", "values": [1.088, 1.092, 1.096, 1.1, 1.104, 1.108, 1.112, 1.116, 1.12, 1.124, 1.128, 1.132],
    "labelExpr": "(datum.value == 1.088 || datum.value == 1.108 || datum.value == 1.128 || datum.value == 1.132) ? '' : format(datum.value, '.4~f')",
    "labelFontWeight": {"condition": {"test": "datum.value == 1.12", "value": "bold"}, "value": "normal"},
    "tickSize": 5, "grid": true, "title": ["Price", "USD"], "titleAngle": 0, "titleAlign": "left", "titleBaseline": "top", "titleX": 7, "titleY": 17, "titleFontSize": 11, "titleFontWeight": "bold", "titleLineHeight": 15}},
  "y2": {"field": "h"}
 }},
{"data": {"name": "p"}, "mark": {"type": "bar", "width": 5},
 "encoding": {
  "x": {"field": "d", "type": "ordinal", "axis": null},
  "y": {"field": "o", "type": "quantitative", "axis": null},
  "y2": {"field": "c"},
  "color": {"condition": {"test": "datum.c >= datum.o", "value": "#0b4a0b"}, "value": "#ff0000"}
 }},
{"data": {"name": "sma"}, "mark": {"type": "line", "color": "#000000", "strokeWidth": 2.6, "interpolate": "monotone"},
 "encoding": {"x": {"field": "d", "type": "ordinal", "axis": null}, "y": {"field": "a144", "type": "quantitative", "axis": null}}},
{"data": {"name": "sma"}, "mark": {"type": "line", "color": "#0c3c78", "strokeWidth": 1.3, "interpolate": "monotone"},
 "encoding": {"x": {"field": "d", "type": "ordinal", "axis": null}, "y": {"field": "a89", "type": "quantitative", "axis": null}}},
{"data": {"name": "sma"}, "mark": {"type": "line", "color": "#ff0000", "strokeWidth": 1, "interpolate": "monotone"},
 "encoding": {"x": {"field": "d", "type": "ordinal", "axis": null}, "y": {"field": "a55", "type": "quantitative", "axis": null}}},
{"data": {"name": "sma"}, "mark": {"type": "line", "color": "#1a8c1a", "strokeWidth": 1, "interpolate": "monotone"},
 "encoding": {"x": {"field": "d", "type": "ordinal", "axis": null}, "y": {"field": "a21", "type": "quantitative", "axis": null}}},
{"data": {"name": "lv"}, "mark": {"type": "rule"},
 "encoding": {
  "x": {"field": "d", "type": "ordinal", "axis": null}, "x2": {"field": "d2"},
  "y": {"field": "v", "type": "quantitative", "axis": null},
  "color": {"condition": {"test": "datum.k == 'sup'", "value": "#0f3f0f"}, "value": "#ff0000"},
  "strokeWidth": {"condition": {"test": "datum.k == 'piv'", "value": 1.2}, "value": 2.2},
  "strokeDash": {"condition": [{"test": "datum.k == 'sup'", "value": [5, 4]}, {"test": "datum.k == 'piv'", "value": [7, 4]}], "value": [1, 0]}
 }},
{"data": {"name": "tr"}, "mark": {"type": "line", "color": "#ff0000", "strokeWidth": 3},
 "encoding": {"x": {"field": "d", "type": "ordinal", "axis": null}, "y": {"field": "v", "type": "quantitative", "axis": null}}},
{"data": {"name": "lb"}, "mark": {"type": "text", "fontSize": 16.3, "color": "#143c3c", "align": "center", "baseline": "middle"},
 "encoding": {"x": {"field": "d", "type": "ordinal", "axis": null}, "y": {"field": "v", "type": "quantitative", "axis": null}, "text": {"field": "t"}}},
{"data": {"name": "lg"}, "mark": {"type": "text", "fontSize": 11.2, "align": "left", "baseline": "middle", "dx": {"expr": "datum.g == 'k' ? -2 : datum.g == 'b' ? 3 : datum.g == 'n' ? 2.5 : 2"}},
 "encoding": {"x": {"field": "d", "type": "ordinal", "axis": null}, "y": {"field": "v", "type": "quantitative", "axis": null}, "text": {"field": "t"},
  "color": {"condition": [{"test": "datum.g == 'r'", "value": "#ff0000"}, {"test": "datum.g == 'b'", "value": "#0000ff"}, {"test": "datum.g == 'n'", "value": "#1c3c8c"}, {"test": "datum.g == 'g'", "value": "#008000"}], "value": "#000000"}}},
{"data": {"values": [{"d": "2019-07-08", "v": 1.13546, "t": "Daily EUR="}]}, "mark": {"type": "text", "fontSize": 16, "fontWeight": "bold", "align": "left", "baseline": "middle", "dx": -9.5, "color": "#000000"},
 "encoding": {"x": {"field": "d", "type": "ordinal", "axis": null}, "y": {"field": "v", "type": "quantitative", "axis": null}, "text": {"field": "t"}}},
{"data": {"values": [{"d": "2020-02-25", "v": 1.13518, "t": "08/07/2019 - 25/02/2020 (GMT)"}]}, "mark": {"type": "text", "fontSize": 10.8, "align": "right", "baseline": "middle", "dx": 55, "color": "#b4b4b4"},
 "encoding": {"x": {"field": "d", "type": "ordinal", "axis": null}, "y": {"field": "v", "type": "quantitative", "axis": null}, "text": {"field": "t"}}},
{"data": {"values": [{"d": "2020-02-25", "v": 1.08539, "t": "Auto"}]},
 "layer": [
  {"mark": {"type": "rect", "width": 32, "height": 13, "xOffset": 22, "fill": "#ffffff", "stroke": "#000000", "strokeWidth": 1},
   "encoding": {"x": {"field": "d", "type": "ordinal", "axis": null}, "y": {"field": "v", "type": "quantitative", "axis": null}}},
  {"mark": {"type": "text", "fontSize": 11, "fontWeight": "bold", "align": "center", "baseline": "middle", "dx": 22, "color": "#000000"},
   "encoding": {"x": {"field": "d", "type": "ordinal", "axis": null}, "y": {"field": "v", "type": "quantitative", "axis": null}, "text": {"field": "t"}}}
 ]},
{"data": {"values": [{"d": "2020-02-25", "v": 1.108, "t": "1.1080", "g": "r"}, {"d": "2020-02-25", "v": 1.1077, "t": "1.1077", "g": "b"}, {"d": "2020-02-25", "v": 1.1068, "t": "1.1068", "g": "k"}, {"d": "2020-02-25", "v": 1.1015, "t": "1.1015", "g": "g"}, {"d": "2020-02-25", "v": 1.0878, "t": "1.0878", "g": "k"}]},
 "layer": [
  {"mark": {"type": "rect", "width": 57, "height": 13, "xOffset": 31, "yOffset": {"expr": "datum.t == '1.1080' ? -17 : datum.t == '1.1077' ? -5 : datum.t == '1.1068' ? 1.5 : 0"}},
   "encoding": {"x": {"field": "d", "type": "ordinal", "axis": null}, "y": {"field": "v", "type": "quantitative", "axis": null},
    "color": {"condition": [{"test": "datum.g == 'r'", "value": "#ff0000"}, {"test": "datum.g == 'b'", "value": "#0c3c78"}, {"test": "datum.g == 'g'", "value": "#138c13"}], "value": "#000000"}}},
  {"mark": {"type": "text", "fontSize": 13, "align": "left", "baseline": "middle", "dx": 5, "yOffset": {"expr": "datum.t == '1.1080' ? -17 : datum.t == '1.1077' ? -5 : datum.t == '1.1068' ? 1.5 : 0"}, "fontWeight": {"expr": "datum.t == '1.0878' ? 'bold' : 'normal'"}},
   "encoding": {"x": {"field": "d", "type": "ordinal", "axis": null}, "y": {"field": "v", "type": "quantitative", "axis": null}, "text": {"field": "t"},
    "color": {"condition": {"test": "datum.g == 'r'", "value": "#000000"}, "value": "#ffffff"}}}
 ]}
]
},
{
"width": 1233, "height": 127,
"resolve": {"axis": {"x": "independent", "y": "independent"}},
"layer": [
{"data": {"values": [{"v": 70}, {"v": 30}]}, "mark": {"type": "rule", "color": "#0a0a80", "strokeWidth": 1},
 "encoding": {"y": {"field": "v", "type": "quantitative", "axis": null}}},
{"data": {"name": "p"}, "mark": {"type": "line", "color": "#0a0a80", "strokeWidth": 1.6},
 "encoding": {
  "x": {"field": "d", "type": "ordinal", "scale": {"type": "point", "padding": 0.3, "domain": {"expr": "days"}}, "axis": {"values": {"expr": "mon"}, "labels": false, "ticks": false, "domain": false, "grid": true, "title": null}},
  "y": {"field": "r", "type": "quantitative", "scale": {"domain": [-6.6, 123.6], "nice": false, "zero": false},
   "axis": {"orient": "right", "values": [0, 30, 60, 90], "labelExpr": "datum.value == 60 ? '60' : ''", "tickSize": 5, "grid": true, "title": ["Value", "USD"], "titleAngle": 0, "titleAlign": "left", "titleBaseline": "top", "titleX": 7, "titleY": 19, "titleFontSize": 11, "titleFontWeight": "normal", "titleColor": "#b4b4b4", "titleLineHeight": 15}}
 }},
{"data": {"values": [{"d": "2019-07-08", "v": 115.4, "t": "RSI, EUR=, Bid(Last),  14, Wilder Smoothing, 13/02/2020, 27.747"}]}, "mark": {"type": "text", "fontSize": 11, "align": "left", "baseline": "middle", "dx": 2, "color": "#0a0a80"},
 "encoding": {"x": {"field": "d", "type": "ordinal", "axis": null}, "y": {"field": "v", "type": "quantitative", "axis": null}, "text": {"field": "t"}}},
{"data": {"values": [{"d": "2020-02-25", "v": 0.5, "t": "Auto"}]},
 "layer": [
  {"mark": {"type": "rect", "width": 34, "height": 12, "xOffset": 22, "fill": "#ffffff", "stroke": "#b4b4b4", "strokeWidth": 1},
   "encoding": {"x": {"field": "d", "type": "ordinal", "axis": null}, "y": {"field": "v", "type": "quantitative", "axis": null}}},
  {"mark": {"type": "text", "fontSize": 11, "align": "center", "baseline": "middle", "dx": 22, "color": "#b4b4b4"},
   "encoding": {"x": {"field": "d", "type": "ordinal", "axis": null}, "y": {"field": "v", "type": "quantitative", "axis": null}, "text": {"field": "t"}}}
 ]},
{"data": {"values": [{"d": "2020-02-25", "v": 27.747, "t": "27.747"}]},
 "layer": [
  {"mark": {"type": "rect", "width": 57, "height": 13, "xOffset": 31, "color": "#00007a"},
   "encoding": {"x": {"field": "d", "type": "ordinal", "axis": null}, "y": {"field": "v", "type": "quantitative", "axis": null}}},
  {"mark": {"type": "text", "fontSize": 12.5, "fontWeight": "bold", "align": "left", "baseline": "middle", "dx": 5, "color": "#ffffff"},
   "encoding": {"x": {"field": "d", "type": "ordinal", "axis": null}, "y": {"field": "v", "type": "quantitative", "axis": null}, "text": {"field": "t"}}}
 ]}
]
},
{
"width": 1233, "height": 111,
"resolve": {"axis": {"x": "independent", "y": "independent"}},
"layer": [
{"data": {"name": "p"}, "mark": {"type": "rule", "color": "#2f5a9c", "strokeWidth": 1},
 "encoding": {
  "x": {"field": "d", "type": "ordinal", "scale": {"type": "point", "padding": 0.3, "domain": {"expr": "days"}}, "axis": {"values": {"expr": "mon"}, "labels": false, "ticks": false, "domain": false, "grid": true, "title": null}},
  "y": {"field": "hi", "type": "quantitative", "scale": {"domain": [-0.00611, 0.006], "nice": false, "zero": false},
   "axis": {"orient": "right", "values": [-0.006, -0.003, 0, 0.003], "labelExpr": "datum.value == 0 ? '0.0000' : (datum.value == -0.003 ? '-0.0030' : '')",
    "labelFontWeight": {"condition": {"test": "datum.value == 0", "value": "bold"}, "value": "normal"},
    "labelFontSize": {"condition": {"test": "datum.value == -0.003", "value": 8.5}, "value": 11},
    "labelOffset": {"condition": {"test": "datum.value == -0.003", "value": -3}, "value": 0},
    "tickSize": 5, "grid": true, "title": ["Value", "USD"], "titleAngle": 0, "titleAlign": "left", "titleBaseline": "top", "titleX": 7, "titleY": 20, "titleFontSize": 11, "titleFontWeight": "normal", "titleColor": "#b4b4b4", "titleLineHeight": 15}},
  "y2": {"datum": 0}
 }},
{"data": {"values": [{"v": 0}]}, "mark": {"type": "rule", "color": "#1c3a1c", "strokeWidth": 1.3},
 "encoding": {"y": {"field": "v", "type": "quantitative", "axis": null}}},
{"data": {"name": "p"}, "mark": {"type": "line", "color": "#0a3a0a", "strokeWidth": 2.2},
 "encoding": {"x": {"field": "d", "type": "ordinal", "axis": null}, "y": {"field": "m", "type": "quantitative", "axis": null}}},
{"data": {"name": "p"}, "mark": {"type": "line", "color": "#ff0000", "strokeWidth": 2.2},
 "encoding": {"x": {"field": "d", "type": "ordinal", "axis": null}, "y": {"field": "s", "type": "quantitative", "axis": null}}},
{"data": {"values": [{"d": "2019-07-08", "v": 0.00472, "t": "MACDF, EUR=, Bid(Last),  12, 26, 9, Exponential, 13/02/2020, -0.0016, MACD, EUR=, Bid(Last),  12, 26, 9, Exponential, 13/02/2020, -0.0055,", "g": "n"}, {"d": "2019-11-18", "v": 0.00472, "t": "-0.0038", "g": "r"}]},
 "mark": {"type": "text", "fontSize": 11, "align": "left", "baseline": "middle", "dx": 2},
 "encoding": {"x": {"field": "d", "type": "ordinal", "axis": null}, "y": {"field": "v", "type": "quantitative", "axis": null}, "text": {"field": "t"},
  "color": {"condition": {"test": "datum.g == 'r'", "value": "#ff0000"}, "value": "#0a0a80"}}},
{"data": {"values": [{"d": "2020-02-25", "v": -0.0016, "t": "-0.0016", "g": "b"}, {"d": "2020-02-25", "v": -0.0038, "t": "-0.0038", "g": "r"}, {"d": "2020-02-25", "v": -0.0055, "t": "-0.0055", "g": "g"}]},
 "layer": [
  {"mark": {"type": "rect", "width": 57, "height": 12, "xOffset": 31},
   "encoding": {"x": {"field": "d", "type": "ordinal", "axis": null}, "y": {"field": "v", "type": "quantitative", "axis": null},
    "color": {"condition": [{"test": "datum.g == 'r'", "value": "#ff0000"}, {"test": "datum.g == 'b'", "value": "#0c3c78"}], "value": "#0a3a0a"}}},
  {"mark": {"type": "text", "fontSize": 12, "align": "left", "baseline": "middle", "dx": 4},
   "encoding": {"x": {"field": "d", "type": "ordinal", "axis": null}, "y": {"field": "v", "type": "quantitative", "axis": null}, "text": {"field": "t"},
    "color": {"condition": {"test": "datum.g == 'r'", "value": "#000000"}, "value": "#ffffff"}}}
 ]}
]
},
{
"width": 1233, "height": 92,
"resolve": {"axis": {"x": "independent", "y": "independent"}},
"layer": [
{"data": {"values": [{"v": 80}, {"v": 20}]}, "mark": {"type": "rule", "color": "#8b1a1a", "strokeWidth": 1.2},
 "encoding": {"y": {"field": "v", "type": "quantitative", "axis": null}}},
{"data": {"name": "p"}, "mark": {"type": "line", "color": "#8b0000", "strokeWidth": 2.2},
 "encoding": {
  "x": {"field": "d", "type": "ordinal", "scale": {"type": "point", "padding": 0.3, "domain": {"expr": "days"}},
   "axis": {"orient": "bottom", "values": {"expr": "mon"}, "labelExpr": "slice(datum.value, 8, 10)", "labelAngle": 0, "labelFontSize": 10.5, "tickSize": 3, "labelPadding": 0, "domain": false, "grid": true, "title": null}},
  "y": {"field": "k", "type": "quantitative", "scale": {"domain": [-11.6, 133.7], "nice": false, "zero": false},
   "axis": {"orient": "right", "values": [0, 50, 100], "labelExpr": "datum.value == 50 ? '50' : ''", "tickSize": 5, "grid": true, "title": ["Value", "USD"], "titleAngle": 0, "titleAlign": "left", "titleBaseline": "top", "titleX": 7, "titleY": 19, "titleFontSize": 11, "titleFontWeight": "normal", "titleColor": "#b4b4b4", "titleLineHeight": 15}}
 }},
{"data": {"name": "p"}, "mark": {"type": "line", "color": "#1f3fff", "strokeWidth": 2, "strokeDash": [4, 3]},
 "encoding": {
  "x": {"field": "d", "type": "ordinal",
   "axis": {"orient": "bottom", "offset": 15, "values": ["2019-07-19", "2019-08-16", "2019-09-16", "2019-10-16", "2019-11-18", "2019-12-17", "2020-01-16", "2020-02-13"], "labelExpr": "utcFormat(toDate(datum.value), '%B %Y')", "labelAngle": 0, "labelFontSize": 11.8, "labelFontWeight": "bold", "ticks": false, "labelPadding": 0, "domain": false, "grid": false, "title": null}},
  "y": {"field": "kd", "type": "quantitative", "axis": null}
 }},
{"data": {"values": [{"d": "2019-07-08", "v": 118.4, "t": "StochS, EUR=, Bid,  14, 3, Simple, 3, 13/02/2020, 7.096,", "g": "r"}, {"d": "2019-08-30", "v": 118.4, "t": "5.801", "g": "b"}]},
 "mark": {"type": "text", "fontSize": 11, "align": "left", "baseline": "middle", "dx": 2},
 "encoding": {
  "x": {"field": "d", "type": "ordinal",
   "axis": {"orient": "bottom", "offset": 15, "values": ["2019-08-01", "2019-09-02", "2019-10-01", "2019-11-01", "2019-12-02", "2020-01-01", "2020-02-03"], "labels": false, "tickSize": 12, "domain": false, "grid": false, "title": null}},
  "y": {"field": "v", "type": "quantitative", "axis": null}, "text": {"field": "t"},
  "color": {"condition": {"test": "datum.g == 'b'", "value": "#1f3fff"}, "value": "#8b0000"}
 }},
{"data": {"values": [{"d": "2020-02-25", "v": 7.096, "t": "7.096"}]},
 "layer": [
  {"mark": {"type": "rect", "width": 57, "height": 13, "xOffset": 31, "color": "#800000"},
   "encoding": {"x": {"field": "d", "type": "ordinal", "axis": null}, "y": {"field": "v", "type": "quantitative", "axis": null}}},
  {"mark": {"type": "text", "fontSize": 12.5, "fontWeight": "bold", "align": "left", "baseline": "middle", "dx": 5, "color": "#ffffff"},
   "encoding": {"x": {"field": "d", "type": "ordinal", "axis": null}, "y": {"field": "v", "type": "quantitative", "axis": null}, "text": {"field": "t"}}}
 ]}
]
}
]
}
